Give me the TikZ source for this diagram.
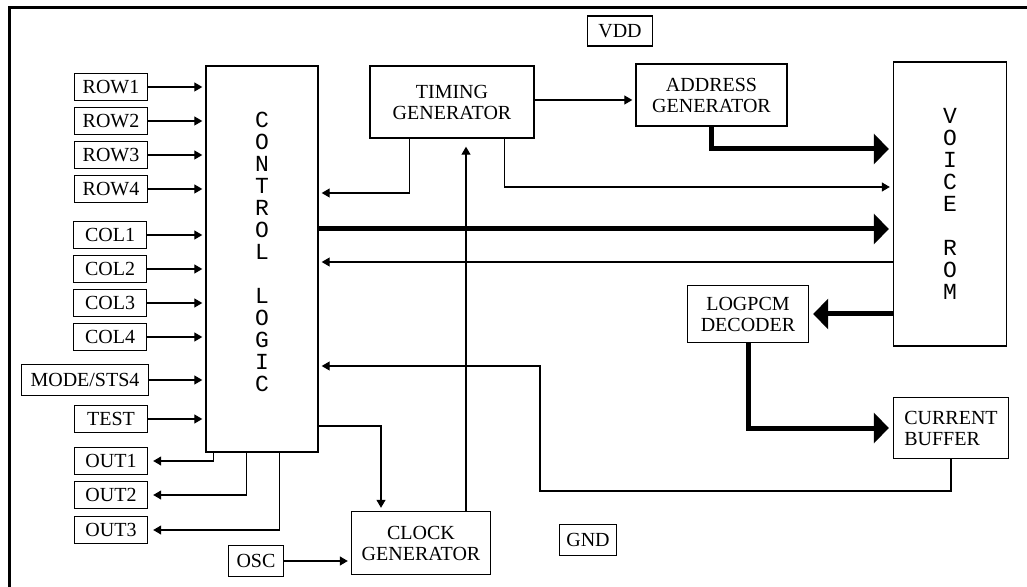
\documentclass[tikz,border=0pt]{standalone}
\usepackage{fontspec}
\setmainfont{Liberation Serif}
\newfontfamily\vertfont{Liberation Mono}
\usetikzlibrary{arrows.meta}

\begin{document}
\begin{tikzpicture}[
  x=0.5pt, y=-0.5pt,
  box/.style={draw, line width=0.7pt, align=center, inner sep=0pt, font=\fontsize{10}{10.5}\selectfont},
  pin/.style={box, minimum width=36.5pt, minimum height=13.5pt},
  tall/.style={box, font=\vertfont\fontsize{11.5}{11}\selectfont},
  sig/.style={line width=0.6pt, -{Triangle[length=4pt,width=4.5pt]}, shorten >=1.5pt},
  bus/.style={line width=2.5pt, -{Triangle[length=7.5pt,width=15pt]}, shorten >=2pt}
]
\useasboundingbox (0,0) rectangle (1027,587);
\draw[line width=1.5pt] (9,592) -- (9,8) -- (1032,8);

\node[tall, minimum width=56pt, minimum height=193pt] (ctrl) at (262,259) {C\\O\\N\\T\\R\\O\\L\\[11pt]L\\O\\G\\I\\C\\[-4pt]};
\node[tall, minimum width=56.5pt, minimum height=142pt] (rom) at (950,204) {V\\O\\I\\C\\E\\[11pt]R\\O\\M};
\node[box, minimum width=82pt, minimum height=36pt] (timing) at (452,102) {TIMING\\GENERATOR};
\node[box, minimum width=75.5pt, minimum height=31pt] (addr) at (711.5,95) {ADDRESS\\GENERATOR};
\node[box, minimum width=32.5pt, minimum height=15pt] (vdd) at (620,31) {VDD};
\node[box, minimum width=60.5pt, minimum height=28.5pt] (dec) at (748,314) {LOGPCM\\DECODER};
\node[box, align=left, minimum width=57.5pt, minimum height=30.5pt] (buf) at (951,428) {CURRENT\\BUFFER};
\node[box, minimum width=69.5pt, minimum height=31.5pt] (clk) at (421,543) {CLOCK\\GENERATOR};
\node[box, minimum width=28.5pt, minimum height=15.5pt] (gnd) at (588,540) {GND};
\node[box, minimum width=27.5pt, minimum height=15.5pt] (osc) at (256,561) {OSC};

\node[pin] (row1) at (111,87) {ROW1};
\node[pin] (row2) at (111,121) {ROW2};
\node[pin] (row3) at (111,155) {ROW3};
\node[pin] (row4) at (111,189) {ROW4};
\node[pin] (col1) at (110,235) {COL1};
\node[pin] (col2) at (110,269) {COL2};
\node[pin] (col3) at (110,303) {COL3};
\node[pin] (col4) at (110,337) {COL4};
\node[pin, minimum width=63.5pt, minimum height=15.5pt] (mode) at (85,380) {MODE/STS4};
\node[pin] (test) at (111,419) {TEST};
\node[pin] (out1) at (111,461) {OUT1};
\node[pin] (out2) at (111,495) {OUT2};
\node[pin] (out3) at (111,530) {OUT3};

\draw[sig] (row1) -- (row1 -| ctrl.west);
\draw[sig] (row2) -- (row2 -| ctrl.west);
\draw[sig] (row3) -- (row3 -| ctrl.west);
\draw[sig] (row4) -- (row4 -| ctrl.west);
\draw[sig] (col1) -- (col1 -| ctrl.west);
\draw[sig] (col2) -- (col2 -| ctrl.west);
\draw[sig] (col3) -- (col3 -| ctrl.west);
\draw[sig] (col4) -- (col4 -| ctrl.west);
\draw[sig] (mode) -- (mode -| ctrl.west);
\draw[sig] (test) -- (test -| ctrl.west);
\draw[sig, shorten >=2.5pt] ([xshift=4pt]ctrl.south west) |- (out1);
\draw[sig, shorten >=2.5pt] ([xshift=20.5pt]ctrl.south west) |- (out2);
\draw[sig, shorten >=2.5pt] ([xshift=37pt]ctrl.south west) |- (out3);
\draw[sig] (osc) -- (osc -| clk.west);
\draw[sig] (timing.east |- 0,100) -- (addr.west |- 0,100);
\draw[sig] ([xshift=20pt]timing.south west) |- (ctrl.east |- 0,193);
\draw[sig] ([xshift=-15pt]timing.south east) |- (rom.west |- 0,187);
\draw[bus] (ctrl.east |- 0,229) -- (rom.west |- 0,229);
\draw[sig] (rom.west |- 0,262) -- (ctrl.east |- 0,262);
\draw[sig] (ctrl.east |- 0,426) -| ([xshift=-20pt]clk.north);
\draw[sig, shorten >=4pt] ([xshift=22.5pt]clk.north) -- ([xshift=22.5pt]clk.north |- timing.south);
\draw[sig] (buf.south) |- (540,491) |- (ctrl.east |- 0,366);
\draw[bus] (addr.south) |- (rom.west |- 0,149);
\draw[bus] (rom.west |- dec) -- (dec.east);
\draw[bus] (dec.south) |- (buf.west);
\end{tikzpicture}
\end{document}
